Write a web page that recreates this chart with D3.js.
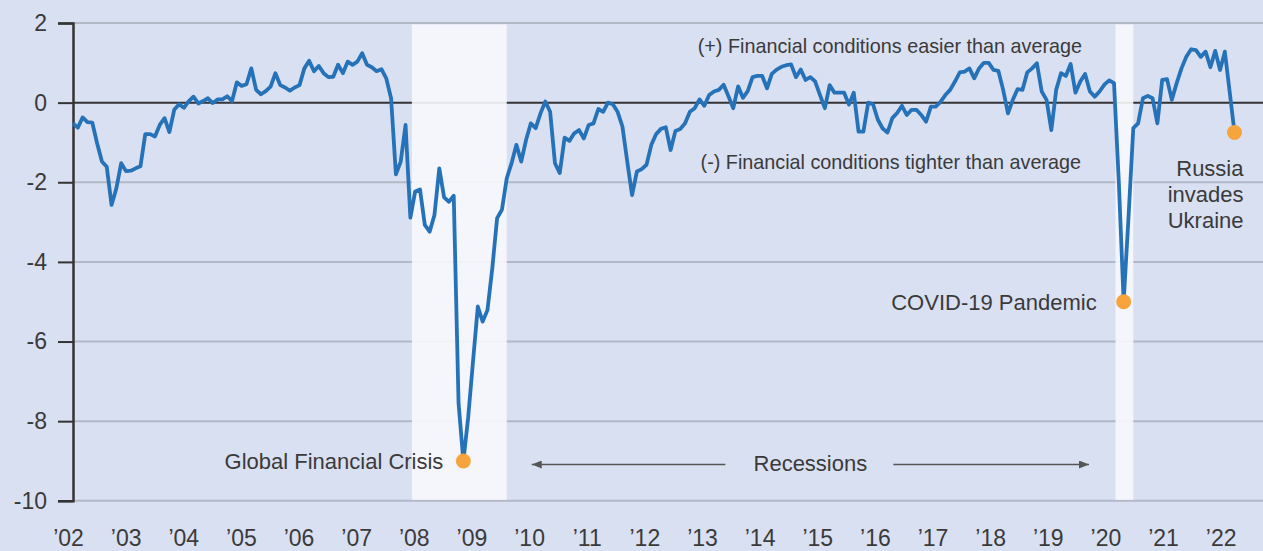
<!DOCTYPE html>
<html>
<head>
<meta charset="utf-8">
<script src="https://cdn.jsdelivr.net/npm/d3@7"></script>
<style>
  body { margin: 0; background: #d9e0f2; }
  svg { display: block; font-family: "Liberation Sans", Arial, sans-serif; }
</style>
</head>
<body>
<div id="chart"></div>
<script>
// Financial conditions index, monthly, first value = Jan 2002
var startYear = 2002;
var fciValues = [
  -0.52, -0.63, -0.37, -0.49, -0.50, -1.02, -1.48, -1.61, -2.57, -2.15, -1.52, -1.72,
  -1.71, -1.65, -1.60, -0.79, -0.79, -0.85, -0.56, -0.39, -0.74, -0.18, -0.04, -0.13,
   0.03,  0.15, -0.02,  0.04,  0.11, -0.01,  0.08,  0.08,  0.16,  0.04,  0.51,  0.42,
   0.46,  0.86,  0.32,  0.21,  0.29,  0.40,  0.74,  0.44,  0.38,  0.30,  0.38,  0.44,
   0.86,  1.05,  0.79,  0.92,  0.74,  0.64,  0.65,  0.95,  0.74,  1.03,  0.95,  1.03,
   1.24,  0.95,  0.89,  0.79,  0.84,  0.61,  0.11, -1.80, -1.48, -0.56, -2.89, -2.23,
  -2.18, -3.07, -3.24, -2.82, -1.65, -2.38, -2.49, -2.34, -7.55, -9.00, -7.90, -6.50,
  -5.12, -5.50, -5.21, -4.16, -2.90, -2.69, -1.90, -1.52, -1.06, -1.48, -0.94, -0.52,
  -0.64, -0.27,  0.03, -0.23, -1.52, -1.77, -0.88, -0.96, -0.77, -0.69, -0.90, -0.56,
  -0.52, -0.16, -0.23,  0.00, -0.04, -0.23, -0.60, -1.48, -2.32, -1.73, -1.67, -1.56,
  -1.06, -0.79, -0.66, -0.62, -1.19, -0.71, -0.66, -0.52, -0.23, -0.14,  0.08, -0.08,
   0.19,  0.28,  0.32,  0.45,  0.16, -0.14,  0.41,  0.12,  0.29,  0.64,  0.67,  0.67,
   0.36,  0.72,  0.83,  0.90,  0.94,  0.96,  0.64,  0.83,  0.57,  0.64,  0.53,  0.19,
  -0.14,  0.44,  0.25,  0.25,  0.25, -0.05,  0.25, -0.73, -0.73,  0.00, -0.04, -0.43,
  -0.65, -0.75, -0.39, -0.26, -0.08, -0.31, -0.18, -0.18, -0.31, -0.48, -0.10, -0.10,
   0.02,  0.19,  0.32,  0.53,  0.76,  0.78,  0.86,  0.61,  0.86,  1.00,  1.00,  0.82,
   0.80,  0.32, -0.27,  0.07,  0.34,  0.32,  0.76,  0.86,  0.99,  0.28,  0.07, -0.69,
   0.32,  0.74,  0.67,  0.97,  0.25,  0.53,  0.72,  0.28,  0.15,  0.28,  0.45,  0.56,
   0.49, -2.00, -5.00, -2.90, -0.64, -0.52,  0.11,  0.17,  0.11, -0.52,  0.57,  0.59,
   0.07,  0.49,  0.86,  1.15,  1.34,  1.32,  1.15,  1.28,  0.89,  1.30,  0.82,  1.28,
   0.27, -0.75
];

var yearLabels = ["’02", "’03", "’04", "’05", "’06", "’07", "’08", "’09", "’10", "’11",
  "’12", "’13", "’14", "’15", "’16", "’17", "’18", "’19", "’20", "’21", "’22"];
var yTicks = [2, 0, -2, -4, -6, -8, -10];

// shaded recession periods
var recessions = [["2007-11", "2009-07"], ["2020-01", "2020-05"]];

// highlighted points
var events = [
  { month: "2008-10", label: ["Global Financial Crisis"] },
  { month: "2020-03", label: ["COVID-19 Pandemic"] },
  { month: "2022-02", label: ["Russia", "invades", "Ukraine"] }
];

var noteEasier = "(+) Financial conditions easier than average";
var noteTighter = "(-) Financial conditions tighter than average";
var recessionText = "Recessions";

function monthIndex(s) {
  var p = s.split("-");
  return (+p[0] - startYear) * 12 + (+p[1] - 1);
}

var svgWidth = 1263;
var svgHeight = 551;

var svg = d3.select("#chart")
  .append("svg")
  .attr("width", svgWidth)
  .attr("height", svgHeight);

svg.append("rect")
  .attr("width", svgWidth)
  .attr("height", svgHeight)
  .attr("fill", "#d9e0f2");

var x = d3.scaleLinear()
  .domain([0, fciValues.length - 1])
  .range([73, 1234.5]);

var y = d3.scaleLinear()
  .domain([-10, 2])
  .range([500.8, 23]);

var textColor = "#3a3a3a";

// gridlines
svg.append("g")
  .selectAll("line")
  .data(yTicks.filter(d => d !== 0))
  .enter()
  .append("line")
  .attr("x1", x(0))
  .attr("x2", svgWidth)
  .attr("y1", d => y(d))
  .attr("y2", d => y(d))
  .attr("stroke", "#b3b8c6")
  .attr("stroke-width", 2);

// zero line
svg.append("line")
  .attr("x1", x(0))
  .attr("x2", svgWidth)
  .attr("y1", y(0))
  .attr("y2", y(0))
  .attr("stroke", "#333333")
  .attr("stroke-width", 2);

// recession bands
svg.append("g")
  .selectAll("rect")
  .data(recessions)
  .enter()
  .append("rect")
  .attr("x", d => x(monthIndex(d[0])) + 1.5)
  .attr("width", d => x(monthIndex(d[1])) - x(monthIndex(d[0])) - 1.5)
  .attr("y", y(2) + 1.5)
  .attr("height", y(-10) - y(2) - 2.5)
  .attr("fill", "#f6f8fc")
  .attr("opacity", 0.9);

// y axis
var yAxis = d3.axisLeft(y)
  .tickValues(yTicks)
  .tickSize(15)
  .tickPadding(11)
  .tickFormat(d => String(d));

var yAxisG = svg.append("g")
  .attr("transform", `translate(${x(0)},0)`)
  .call(yAxis);

yAxisG.select(".domain")
  .attr("stroke", "#333333")
  .attr("stroke-width", 2.5);
yAxisG.selectAll(".tick line")
  .attr("stroke", "#333333")
  .attr("stroke-width", 2);
yAxisG.selectAll(".tick text")
  .attr("fill", textColor)
  .attr("font-size", "23px")
  .attr("font-family", "Liberation Sans, Arial, sans-serif");

// x axis labels
var xAxis = d3.axisBottom(x)
  .tickValues(yearLabels.map((d, i) => i * 12))
  .tickSize(0)
  .tickPadding(29)
  .tickFormat((d, i) => yearLabels[i]);

var xAxisG = svg.append("g")
  .attr("transform", `translate(0,${y(-10)})`)
  .call(xAxis);

xAxisG.select(".domain").remove();
xAxisG.selectAll(".tick text")
  .attr("x", (d, i) => -5 - i * 0.2)
  .attr("fill", textColor)
  .attr("font-size", "23px")
  .attr("font-family", "Liberation Sans, Arial, sans-serif");

// the index line
var line = d3.line()
  .x((d, i) => x(i))
  .y(d => y(d));

svg.append("path")
  .datum(fciValues)
  .attr("d", line)
  .attr("fill", "none")
  .attr("stroke", "#2672b9")
  .attr("stroke-width", 3.8)
  .attr("stroke-linejoin", "round");

// event dots
svg.append("g")
  .selectAll("circle")
  .data(events)
  .enter()
  .append("circle")
  .attr("cx", d => x(monthIndex(d.month)))
  .attr("cy", d => y(fciValues[monthIndex(d.month)]))
  .attr("r", 7.5)
  .attr("fill", "#f6a43b");

// event labels
var labelOffsets = [[-20, 8], [-27, 8], [9, 44]];
events.forEach(function (ev, k) {
  var px = x(monthIndex(ev.month)) + labelOffsets[k][0];
  var py = y(fciValues[monthIndex(ev.month)]) + labelOffsets[k][1];
  var t = svg.append("text")
    .attr("text-anchor", "end")
    .attr("font-size", "22px")
    .attr("fill", textColor);
  ev.label.forEach(function (s, j) {
    t.append("tspan")
      .attr("x", px)
      .attr("y", py + j * 26)
      .text(s);
  });
});

// notes on either side of zero
svg.append("text")
  .attr("x", 1082)
  .attr("y", 52.5)
  .attr("text-anchor", "end")
  .attr("font-size", "19.8px")
  .attr("fill", textColor)
  .text(noteEasier);

svg.append("text")
  .attr("x", 1081)
  .attr("y", 169)
  .attr("text-anchor", "end")
  .attr("font-size", "19.8px")
  .attr("fill", textColor)
  .text(noteTighter);

// recessions arrows
var gfcEnd = x(monthIndex(recessions[0][1]));
var covidStart = x(monthIndex(recessions[1][0]));
var midX = (gfcEnd + covidStart) / 2;
var arrowY = 464.5;

svg.append("defs")
  .append("marker")
  .attr("id", "arrowhead")
  .attr("viewBox", "0 0 10 8")
  .attr("refX", 10)
  .attr("refY", 4)
  .attr("markerWidth", 10)
  .attr("markerHeight", 8)
  .attr("markerUnits", "userSpaceOnUse")
  .attr("orient", "auto")
  .append("path")
  .attr("d", "M0,0 L10,4 L0,8 Z")
  .attr("fill", "#555555");

svg.append("line")
  .attr("x1", midX - 85)
  .attr("x2", gfcEnd + 25)
  .attr("y1", arrowY)
  .attr("y2", arrowY)
  .attr("stroke", "#555555")
  .attr("stroke-width", 1.5)
  .attr("marker-end", "url(#arrowhead)");

svg.append("line")
  .attr("x1", midX + 83)
  .attr("x2", covidStart - 25)
  .attr("y1", arrowY)
  .attr("y2", arrowY)
  .attr("stroke", "#555555")
  .attr("stroke-width", 1.5)
  .attr("marker-end", "url(#arrowhead)");

svg.append("text")
  .attr("x", midX)
  .attr("y", 470.5)
  .attr("text-anchor", "middle")
  .attr("font-size", "22px")
  .attr("fill", textColor)
  .text(recessionText);
</script>
</body>
</html>
